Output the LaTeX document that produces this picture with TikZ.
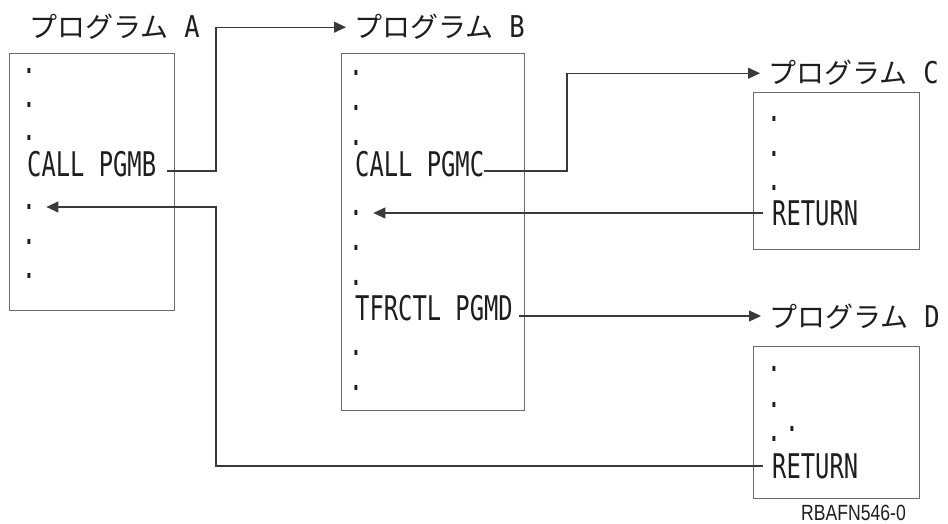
\documentclass[tikz,border=0pt]{standalone}
\usepackage{fontspec}
\usepackage{tikz}
\usetikzlibrary{arrows.meta,calc}
\newfontfamily\jpfont{Noto Sans CJK JP}
\newfontfamily\codefont[FakeStretch=0.70]{DejaVu Sans Mono}
\newfontfamily\letterfont[FakeStretch=0.85]{DejaVu Sans Mono}
\newfontfamily\figfont[FakeStretch=0.80]{Liberation Sans}
\definecolor{ink}{HTML}{1E1E1E}
\definecolor{frame}{HTML}{6B6B6B}
\definecolor{wire}{HTML}{3A3A3A}
\newcommand\progname[1]{{\jpfont\fontsize{28}{28}\selectfont プログラム}\hspace{16pt}{\letterfont\fontsize{30}{30}\selectfont #1}}
\tikzset{
  progbox/.style={
    draw=frame,line width=1.2pt,
    anchor=north west,inner sep=0pt
  },
  progtitle/.style={
    anchor=base west,inner sep=0pt,inner xsep=8pt,text=ink
  },
  stmt/.style={
    anchor=base west,inner sep=0pt,text=ink,
    font=\codefont\fontsize{34}{34}\selectfont
  },
  stmtdot/.style={
    inner sep=0pt,text=ink,
    font=\codefont\fontsize{34}{34}\selectfont
  },
  link/.style={-{Triangle[length=12pt,width=11pt]},draw=wire,line width=1.1pt}
}

\begin{document}
\begin{tikzpicture}[x=1pt,y=-1pt]
\useasboundingbox (0,0) rectangle (948,524);
% program A
\node[progtitle] (ta) at (21,38) {\progname{A}};
\node[progbox,minimum width=165pt,minimum height=257pt] (pa) at (9,53) {};
\foreach \y [count=\i] in {71,105,138} \node[stmtdot] (a\i) at (29,\y) {.};
\node[stmt] (callb) at (27,176) {CALL PGMB};
\foreach \y [count=\i from 4] in {207,242,276} \node[stmtdot] (a\i) at (29,\y) {.};
% program B
\node[progtitle] (tb) at (346,38) {\progname{B}};
\node[progbox,minimum width=183pt,minimum height=357pt] (pb) at (341,53) {};
\foreach \y [count=\i] in {73,108,143} \node[stmtdot] (b\i) at (356,\y) {.};
\node[stmt] (callc) at (355,176) {CALL PGMC};
\foreach \y [count=\i from 4] in {213,248,283} \node[stmtdot] (b\i) at (356,\y) {.};
\node[stmt] (tfr) at (355,320) {TFRCTL PGMD};
\foreach \y [count=\i from 7] in {353,388} \node[stmtdot] (b\i) at (356,\y) {.};
% program C
\node[progtitle] (tc) at (760,84) {\progname{C}};
\node[progbox,minimum width=166pt,minimum height=157pt] (pc) at (753,92) {};
\foreach \y [count=\i] in {119,154,188} \node[stmtdot] (c\i) at (774,\y) {.};
\node[stmt,anchor=west,inner xsep=9pt] (retc) at (763,213) {RETURN};
% program D
\node[progtitle] (td) at (761,327) {\progname{D}};
\node[progbox,minimum width=166pt,minimum height=152pt] (pd) at (753,346) {};
\foreach \y [count=\i] in {369,405,439} \node[stmtdot] (d\i) at (774,\y) {.};
\node[stmtdot] (d4) at (792,429) {.};
\node[stmt,anchor=west,inner xsep=9pt] (retd) at (763,466) {RETURN};
\node[stmt,font=\figfont\fontsize{22}{22}\selectfont] (fig) at (801,520) {RBAFN546-0};
% calls and returns
\coordinate (upa) at (216,100);
\coordinate (upb) at (567,120);
\coordinate (backa) at (216,300);
\coordinate (tfrout) at ([shift={(6pt,4pt)}]tfr.base east);
\draw[link] ([shift={(11pt,5pt)}]callb.base east) -| (upa) |- (tb.west);
\draw[link] ([yshift=5pt]callc.base east) -| (upb) |- (tc.west);
\draw[link] (retc.west) -- ([xshift=10pt]b4.east);
\draw[link] (tfrout) -- (tfrout -| td.west);
\draw[link] (retd.west) -| (backa) |- ([xshift=10pt]a4.east);
\end{tikzpicture}
\end{document}
